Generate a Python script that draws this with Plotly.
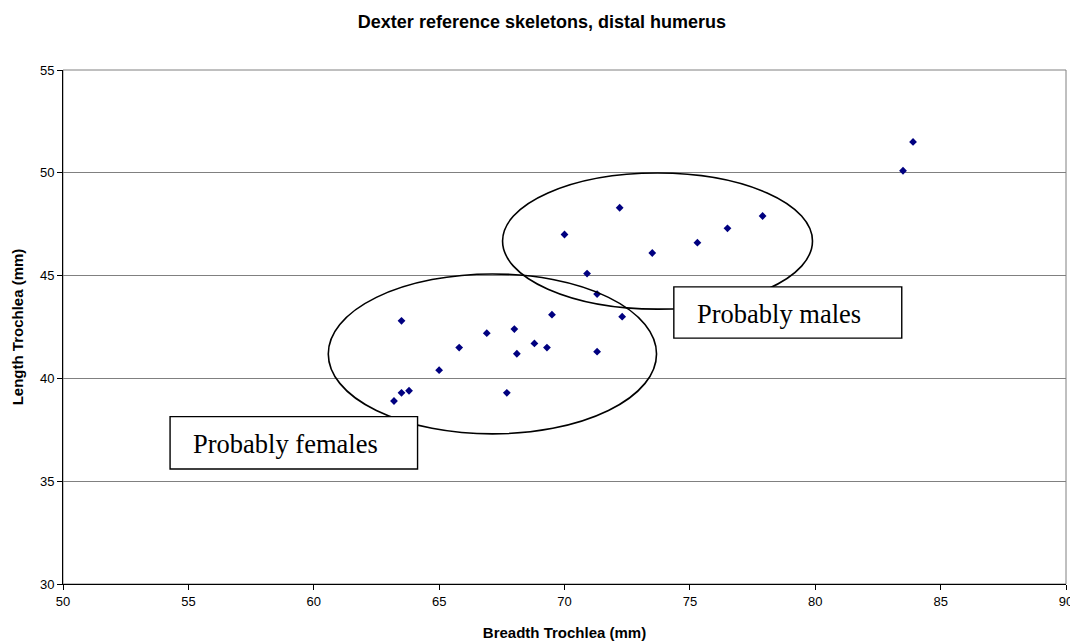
import plotly.graph_objects as go

# Breadth / length of the trochlea, distal humerus (mm)
breadth = [63.2, 63.5, 63.8, 63.5, 65.0, 65.8, 66.9, 68.0, 68.1, 67.7,
           68.8, 69.3, 69.5, 71.3, 72.3, 71.3, 70.9, 70.0, 72.2, 73.5,
           75.3, 76.5, 77.9, 83.5, 83.9]
length = [38.9, 39.3, 39.4, 42.8, 40.4, 41.5, 42.2, 42.4, 41.2, 39.3,
          41.7, 41.5, 43.1, 41.3, 43.0, 44.1, 45.1, 47.0, 48.3, 46.1,
          46.6, 47.3, 47.9, 50.1, 51.5]

x_ticks = [50, 55, 60, 65, 70, 75, 80, 85, 90]
y_ticks = [30, 35, 40, 45, 50, 55]

# groups drawn as ellipses (x0, x1, y0, y1) and label boxes
female_ellipse = (60.58, 73.67, 37.30, 45.08)
male_ellipse = (67.53, 79.89, 43.37, 49.99)
female_box = (54.27, 64.14, 35.59, 38.14)
male_box = (74.36, 83.45, 41.96, 44.45)
labels = [("Probably females", 55.10, 36.81), ("Probably males", 75.20, 43.13)]

fig = go.Figure()
fig.add_scatter(
    x=breadth, y=length, mode="markers",
    marker=dict(symbol="diamond", size=6, color="#000080",
                line=dict(width=0)),
    showlegend=False,
)

# plot area border (grey), axes drawn black on top
fig.add_shape(type="rect", xref="paper", yref="paper", x0=0, x1=1, y0=0, y1=1,
              line=dict(color="#808080", width=1), layer="below")

for x0, x1, y0, y1 in [female_ellipse, male_ellipse]:
    fig.add_shape(type="circle", x0=x0, x1=x1, y0=y0, y1=y1,
                  line=dict(color="black", width=1.6))

for x0, x1, y0, y1 in [female_box, male_box]:
    fig.add_shape(type="rect", x0=x0, x1=x1, y0=y0, y1=y1,
                  line=dict(color="black", width=1.4), fillcolor="white")

for txt, tx, ty in labels:
    fig.add_annotation(x=tx, y=ty, text=txt, showarrow=False,
                       xanchor="left", yanchor="middle",
                       font=dict(family="Liberation Serif", size=26.5, color="black"))

# page body has an 8px margin, so the figure is a bit smaller than the window
fig.update_layout(
    width=1070, height=636,
    margin=dict(l=55, r=12, t=62, b=60),
    paper_bgcolor="white", plot_bgcolor="white",
    font=dict(family="Liberation Sans", size=13, color="black"),
    title=dict(text="<b>Dexter reference skeletons, distal humerus</b>",
               x=0.499, xanchor="center", y=1 - 14 / 636, yanchor="middle",
               font=dict(size=18)),
)
fig.update_xaxes(
    range=[50, 90], tickvals=x_ticks, showgrid=False, zeroline=False,
    showline=True, linecolor="black", linewidth=1, automargin=False,
    ticks="outside", ticklen=5, tickcolor="black",
    title=dict(text="<b>Breadth Trochlea (mm)</b>", font=dict(size=15), standoff=19),
)
fig.update_yaxes(
    range=[30, 55], tickvals=y_ticks, showgrid=True, gridcolor="#808080",
    gridwidth=1, zeroline=False,
    showline=True, linecolor="black", linewidth=1, automargin=False,
    ticks="outside", ticklen=5, tickcolor="black",
    title=dict(text="<b>Length Trochlea (mm)</b>", font=dict(size=15), standoff=12),
)

fig.write_html("out.html")
